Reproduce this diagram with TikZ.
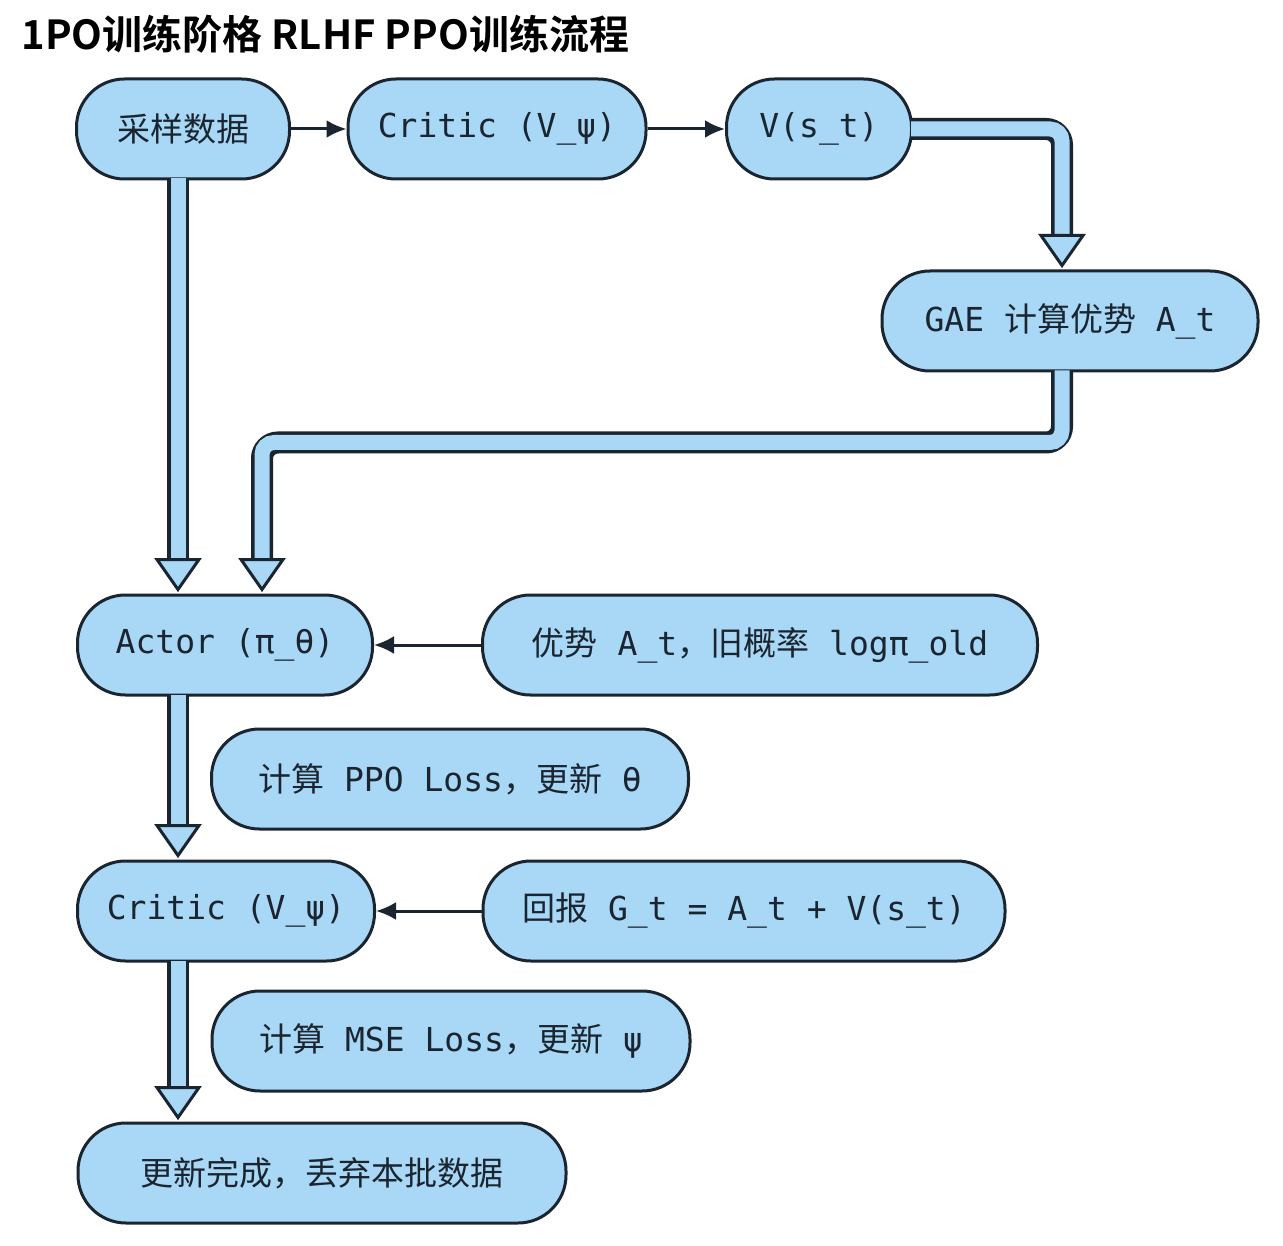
\documentclass[tikz,border=0pt]{standalone}
\usepackage{fontspec}
\setmainfont{DejaVu Sans Mono}
\newfontfamily\cjk{Noto Sans CJK SC}
\newfontfamily\cjkb{Noto Sans CJK SC Bold}
\usetikzlibrary{calc}
\definecolor{bx}{HTML}{A8D8F6}
\definecolor{ln}{HTML}{1B2530}
\tikzset{
 box/.style={draw=ln,line width=3pt,fill=bx,rounded corners=48pt,minimum height=100pt,inner sep=0pt,font=\fontsize{33}{40}\selectfont,text=ln},
 thin/.style={draw=ln,line width=3pt,-{Latex[length=20pt,width=18pt]}},
 fo/.style={draw=ln,line width=22pt,rounded corners=16pt},
 fi/.style={draw=bx,line width=15pt,rounded corners=12pt},
 hd/.style={fill=bx,draw=ln,line width=3pt,line join=miter},
}
\usetikzlibrary{arrows.meta}
\newcommand\fat[1]{\draw[fo] #1; \draw[fi] #1;}
\newcommand\hdown[1]{\filldraw[hd] (#1) -- ++(-21,-30) -- ++(42,0) -- cycle;}
\begin{document}
\begin{tikzpicture}[x=1pt,y=-1pt]
\fill[white] (0,0) rectangle (1283,1246);
\node[anchor=west,font=\cjkb\fontsize{40}{44}\selectfont,text=black] (title) at (18,34) {1PO训练阶格 RLHF PPO训练流程};
\node[box,minimum width=213pt] (s) at (183,129) {\cjk 采样数据};
\node[box,minimum width=298pt] (c1) at (497,129) {Critic (V\_ψ)};
\node[box,minimum width=185pt] (v) at (819,129) {V(s\_t)};
\node[box,minimum width=376pt] (g) at (1070,321) {GAE {\cjk 计算优势} A\_t};
\node[box,minimum width=295pt] (a) at (225,645) {Actor (π\_θ)};
\node[box,minimum width=555pt] (adv) at (760,645) {{\cjk 优势} A\_t{\cjk ，旧概率} logπ\_old};
\node[box,minimum width=477pt] (ppo) at (450,779) {{\cjk 计算} PPO Loss{\cjk ，更新} θ};
\node[box,minimum width=297pt] (c2) at (226,911) {Critic (V\_ψ)};
\node[box,minimum width=522pt] (ret) at (744,911) {{\cjk 回报} G\_t = A\_t + V(s\_t)};
\node[box,minimum width=478pt] (mse) at (451,1041) {{\cjk 计算} MSE Loss{\cjk ，更新} ψ};
\node[box,minimum width=488pt] (done) at (322,1173) {\cjk 更新完成，丢弃本批数据};
\draw[thin] (s) -- (c1);
\draw[thin] (c1) -- (v);
\draw[thin] (adv) -- (a);
\draw[thin] (ret) -- (c2);
% fat arrows
\coordinate (t1) at ($(a.north)+(-47,-4)$);
\fat{($(s.south)+(-5,-2)$) -- ($(t1)+(0,-28)$)}
\hdown{t1}
\coordinate (t2) at ($(g.north)+(-8,-4)$);
\fat{($(v.east)+(-2,0)$) -| ($(t2)+(0,-28)$)}
\hdown{t2}
\coordinate (t3) at ($(a.north)+(37,-4)$);
\fat{($(g.south)+(-8,-2)$) -- ++(0,72) -| ($(t3)+(0,-28)$)}
\hdown{t3}
\coordinate (t4) at ($(c2.north)+(-48,-4)$);
\fat{($(a.south)+(-47,-2)$) -- ($(t4)+(0,-28)$)}
\hdown{t4}
\coordinate (t5) at ($(done.north)+(-144,-4)$);
\fat{($(c2.south)+(-48,-2)$) -- ($(t5)+(0,-28)$)}
\hdown{t5}
\end{tikzpicture}
\end{document}
